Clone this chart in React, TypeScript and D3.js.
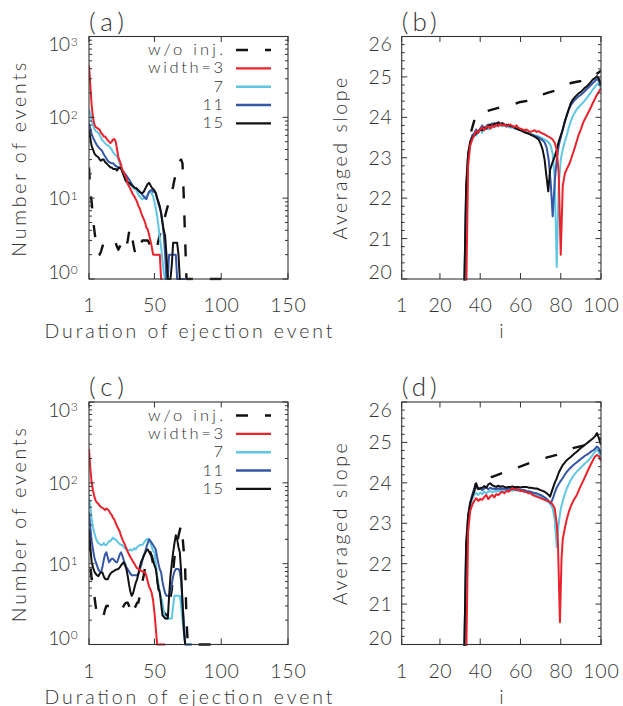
import React from 'react';
import * as d3 from 'd3';

type Pt = [number, number];

// ---------- tick values / labels ----------
const durTicks = [1, 50, 100, 150];
const logTicks = [1, 10, 100, 1000];
const logExp = ['0', '1', '2', '3'];
const iTicks = [1, 20, 40, 60, 80, 100];
const slopeTicks = [20, 21, 22, 23, 24, 25, 26];
const legendLabels = ['w/o inj.', 'width=3', '7', '11', '15'];
const seriesColors = ['#111111', '#e8232b', '#5fc6e3', '#3656a6', '#111111'];

// ---------- panel (a): number of events vs duration ----------
const aDash: Pt[] = [[1, 24], [2, 12], [3, 9], [4, 5.5], [5, 4], [6, 3], [7, 2.3], [8, 2.2], [9, 2], [10, 2.2], [11, 2.5], [12, 2.8], [13, 3], [14, 3], [15, 3], [16, 3], [17, 3], [18, 3], [19, 3], [20, 3], [21, 2.8], [22, 2.5], [23, 2.3], [24, 2.5], [25, 2.8], [26, 3], [27, 2.8], [28, 2.5], [29, 2.5], [30, 3], [31, 3.8], [32, 4.3], [33, 3.5], [34, 2.8], [35, 2.3], [36, 2], [37, 2], [38, 2.2], [39, 2.5], [40, 2.8], [41, 3], [42, 3], [43, 3], [44, 3], [45, 3], [46, 2.8], [47, 2.5], [48, 2.3], [49, 2.2], [50, 2.2], [51, 2.2], [52, 2.5], [53, 3], [54, 3.5], [55, 4], [56, 4.5], [57, 5], [58, 6], [59, 7], [60, 8], [61, 9], [62, 10], [63, 12], [64, 14], [65, 17], [66, 20], [67, 23], [68, 26], [69, 29], [70, 30], [71, 27], [72, 10], [73, 3], [74, 0], [100, 0]];
const aRed: Pt[] = [[1, 440], [2, 250], [3, 140], [4, 100], [5, 82], [6, 76], [7, 74], [8, 72], [9, 70], [10, 64], [11, 62], [12, 58], [13, 58], [14, 55], [15, 52], [16, 50], [17, 48], [18, 50], [19, 53], [20, 54], [21, 50], [22, 40], [23, 32], [24, 29], [25, 26], [26, 22], [27, 21], [28, 19], [29, 18], [30, 15], [31, 14], [32, 13], [33, 12], [34, 11], [35, 10.5], [36, 9.7], [37, 9], [38, 8], [39, 7.5], [40, 6.6], [41, 6], [42, 5.5], [43, 5], [44, 4.3], [45, 4.1], [46, 3.5], [47, 3], [48, 2.5], [49, 2], [50, 2], [51, 2], [52, 2], [53, 2], [54, 2], [55, 0], [56, 0]];
const aLblue: Pt[] = [[1, 126], [2, 110], [3, 90], [4, 80], [5, 72], [6, 68], [7, 66], [8, 64], [9, 60], [10, 56], [11, 52], [12, 50], [13, 48], [14, 46], [15, 45], [16, 44], [17, 42], [18, 40], [19, 37], [20, 35], [21, 34], [22, 33], [23, 30], [24, 27], [25, 24], [26, 22], [27, 20], [28, 19], [29, 18], [30, 16], [31, 15], [32, 14.5], [33, 14], [34, 13.5], [35, 13], [36, 13], [37, 12], [38, 11], [39, 10.5], [40, 10], [41, 9.7], [42, 10], [43, 10.5], [44, 10], [45, 11], [46, 12], [47, 12], [48, 11.5], [49, 10.5], [50, 9], [51, 7.5], [52, 6], [53, 4.5], [54, 3.2], [55, 2.5], [56, 1.7], [57, 1.2], [58, 0], [59, 0]];
const aBlue: Pt[] = [[1, 85], [2, 72], [3, 62], [4, 56], [5, 52], [6, 48], [7, 45], [8, 43], [9, 41], [10, 40], [11, 38], [12, 35], [13, 33], [14, 31], [15, 29], [16, 28], [17, 27.5], [18, 27], [19, 27], [20, 26], [21, 25], [22, 24.5], [23, 24], [24, 23.5], [25, 23], [26, 22], [27, 21], [28, 20], [29, 19], [30, 18], [31, 17], [32, 16], [33, 15], [34, 14], [35, 13.5], [36, 13.4], [37, 13], [38, 12.5], [39, 12], [40, 11.6], [41, 11], [42, 10.5], [43, 10], [44, 9.7], [45, 11], [46, 12], [47, 12.5], [48, 12.5], [49, 12], [50, 12], [51, 11.6], [52, 10], [53, 8.5], [54, 7.5], [55, 6.6], [56, 5], [57, 3.5], [58, 2], [59, 1], [60, 0], [61, 2], [62, 2], [63, 2], [64, 2], [65, 2], [66, 2], [67, 0], [73, 0]];
const aBlack: Pt[] = [[1, 71], [2, 55], [3, 44], [4, 40], [5, 36], [6, 34], [7, 33], [8, 32], [9, 30], [10, 29], [11, 30], [12, 30], [13, 28], [14, 27], [15, 26], [16, 25], [17, 24], [18, 24], [19, 23], [20, 23], [21, 23], [22, 22], [23, 23.5], [24, 24], [25, 23.5], [26, 21], [27, 19], [28, 17], [29, 16], [30, 15.5], [31, 15.5], [32, 15], [33, 14.5], [34, 14], [35, 13.5], [36, 13.4], [37, 13], [38, 12.5], [39, 12], [40, 11.6], [41, 11.6], [42, 12], [43, 13], [44, 14], [45, 15], [46, 15.5], [47, 14.5], [48, 13.5], [49, 13], [50, 12.5], [51, 11.5], [52, 10], [53, 9], [54, 8], [55, 6.5], [56, 5], [57, 4], [58, 3.4], [59, 2], [60, 0], [62, 0], [63, 1.5], [64, 2.8], [65, 2.8], [66, 2.8], [67, 2.8], [68, 2], [69, 0], [70, 0]];

// ---------- panel (c): number of events vs duration ----------
const cDash: Pt[] = [[1, 20], [2, 9.5], [3, 6.5], [4, 5], [5, 4], [6, 3], [7, 2.3], [8, 2.2], [9, 2.1], [10, 2.1], [11, 2.1], [12, 2.3], [13, 2.7], [14, 3], [15, 3], [16, 3], [17, 3], [18, 3], [19, 3], [20, 3], [21, 2.8], [22, 2.7], [23, 2.7], [24, 2.7], [25, 2.7], [26, 2.8], [27, 3], [28, 3.2], [29, 3.3], [30, 3.3], [31, 3], [32, 2.6], [33, 2.3], [34, 2.5], [35, 2.8], [36, 3], [37, 3.3], [38, 3.3], [39, 4], [40, 5], [41, 6], [42, 7.2], [43, 9], [44, 11], [45, 12.5], [46, 13.5], [47, 13.8], [48, 12], [49, 10], [50, 9], [51, 8.6], [52, 6.5], [53, 5], [54, 4], [55, 3.2], [56, 2.7], [57, 2.5], [58, 2.4], [59, 2.3], [60, 2.3], [61, 3], [62, 3.8], [63, 4.8], [64, 8], [65, 12], [66, 16], [67, 18], [68, 22], [69, 26], [70, 30], [71, 22], [72, 14], [73, 8.6], [74, 2], [75, 0], [100, 0]];
const cRed: Pt[] = [[1, 263], [2, 150], [3, 101], [4, 80], [5, 68], [6, 60], [7, 57], [8, 55], [9, 52], [10, 50], [11, 49], [12, 48], [13, 46], [14, 48], [15, 47], [16, 45], [17, 42], [18, 40], [19, 37], [20, 35], [21, 32], [22, 29], [23, 27], [24, 25], [25, 22], [26, 20], [27, 18.5], [28, 17], [29, 15.5], [30, 14], [31, 13], [32, 12], [33, 11.4], [34, 10.5], [35, 10], [36, 9.3], [37, 8.8], [38, 8.6], [39, 8.4], [40, 8.2], [41, 8], [42, 7.9], [43, 7.8], [44, 7], [45, 6], [46, 5.2], [47, 4.8], [48, 4.3], [49, 3.5], [50, 2.5], [51, 1.6], [52, 1], [53, 0], [58, 0]];
const cLblue: Pt[] = [[1, 66], [2, 50], [3, 36], [4, 28], [5, 24], [6, 21], [7, 19], [8, 18], [9, 17.5], [10, 17], [11, 17], [12, 18], [13, 17], [14, 17], [15, 18], [16, 19], [17, 19], [18, 20], [19, 21], [20, 20], [21, 20], [22, 19], [23, 18], [24, 17.5], [25, 17], [26, 17], [27, 16], [28, 15.5], [29, 15], [30, 14.6], [31, 14.6], [32, 15], [33, 14.5], [34, 15], [35, 15.5], [36, 15], [37, 16], [38, 16.5], [39, 17], [40, 17], [41, 17], [42, 18], [43, 19], [44, 20], [45, 20], [46, 20], [47, 18], [48, 16], [49, 14.5], [50, 13.8], [51, 10], [52, 7.2], [53, 5.5], [54, 4.5], [55, 3.8], [56, 3.3], [57, 2.5], [58, 2.1], [63, 2.1], [64, 3], [65, 4], [69, 4], [70, 3], [71, 2], [72, 1.5], [73, 1], [74, 0], [78, 0]];
const cBlue: Pt[] = [[1, 43], [2, 28], [3, 19], [4, 15], [5, 12], [6, 10.5], [7, 9.5], [8, 8.5], [9, 8], [10, 7.8], [11, 9], [12, 11], [13, 13], [14, 13.8], [15, 12], [16, 10.4], [17, 11], [18, 11.5], [19, 11.5], [20, 11], [21, 10.5], [22, 10.4], [23, 11.5], [24, 13], [25, 13.8], [26, 12.5], [27, 11], [28, 10], [29, 9], [30, 8.5], [31, 8], [32, 7.5], [33, 7.2], [37, 7.2], [38, 7.5], [39, 8.5], [40, 9.5], [41, 11], [42, 12.7], [43, 14], [44, 16], [45, 18], [46, 20], [47, 19], [48, 18], [49, 17], [50, 16], [51, 15], [52, 12], [53, 10], [54, 8.5], [55, 7.8], [56, 6], [57, 5], [58, 4.3], [59, 4], [61, 4], [62, 4.5], [63, 5.5], [64, 7], [65, 8], [66, 8.6], [68, 8.6], [69, 8], [70, 6], [71, 3.3], [72, 2], [73, 1], [74, 0], [78, 0]];
const cBlack: Pt[] = [[1, 27], [2, 16], [3, 10.4], [4, 9], [5, 8], [6, 7.5], [7, 7.2], [8, 7], [9, 7.5], [10, 7.8], [11, 7.8], [12, 7], [13, 6.5], [14, 6.4], [15, 6.4], [16, 7], [17, 7.5], [18, 7.8], [19, 8], [20, 8.2], [21, 8.4], [22, 8.5], [23, 8.6], [24, 9], [25, 9.5], [26, 10], [27, 10.4], [28, 9.5], [29, 8.6], [30, 7], [31, 5.5], [32, 4.5], [33, 4], [34, 4.3], [35, 5], [36, 5.8], [37, 6.4], [38, 7.5], [39, 9], [40, 10.5], [41, 11.4], [42, 12.5], [43, 13.5], [44, 14.5], [45, 15], [46, 14], [47, 13], [48, 12.7], [49, 11], [50, 9.5], [51, 8.6], [52, 6.5], [53, 5], [54, 4.4], [55, 3.2], [56, 2.3], [57, 2.2], [58, 2.1], [60, 2.1], [61, 4], [62, 7], [63, 10], [64, 13.8], [65, 18], [66, 22.4], [67, 20], [68, 16], [69, 13.8], [70, 8], [71, 3.3], [72, 1.5], [73, 0]];

// ---------- panel (b): averaged slope vs i ----------
const bDash: Pt[] = [[35.5, 23.65], [37.5, 24.0], [40, 24.1], [45, 24.18], [50, 24.25], [55, 24.3], [60, 24.38], [65, 24.42], [70, 24.55], [75, 24.63], [80, 24.7], [85, 24.85], [90, 24.9], [95, 24.98], [100, 25.15]];
const bRed: Pt[] = [[33, 19.5], [34, 22.8], [35, 23.3], [36, 23.45], [37, 23.55], [38, 23.66], [39, 23.62], [40, 23.7], [41, 23.75], [42, 23.68], [43, 23.76], [44, 23.78], [45, 23.72], [46, 23.8], [47, 23.76], [48, 23.82], [49, 23.78], [50, 23.84], [51, 23.8], [52, 23.83], [53, 23.78], [54, 23.8], [55, 23.82], [56, 23.78], [57, 23.76], [58, 23.8], [59, 23.74], [60, 23.72], [61, 23.7], [62, 23.68], [63, 23.7], [64, 23.66], [65, 23.64], [66, 23.66], [67, 23.68], [68, 23.64], [69, 23.66], [70, 23.62], [71, 23.6], [72, 23.58], [73, 23.55], [74, 23.52], [75, 23.49], [76, 23.45], [77, 23.37], [78, 23.2], [79, 22.6], [80, 20.6], [81, 22.3], [82, 22.6], [83, 22.72], [84, 22.82], [85, 22.95], [86, 23.1], [87, 23.25], [88, 23.42], [89, 23.58], [90, 23.7], [91, 23.85], [92, 23.96], [93, 24.05], [94, 24.15], [95, 24.25], [96, 24.36], [97, 24.46], [98, 24.56], [99, 24.64], [100, 24.72]];
const bLblue: Pt[] = [[32, 19.5], [33, 22.0], [34, 23.0], [35, 23.3], [36, 23.5], [37, 23.6], [38, 23.55], [39, 23.65], [40, 23.7], [41, 23.62], [42, 23.72], [43, 23.75], [44, 23.7], [45, 23.78], [46, 23.74], [47, 23.8], [48, 23.78], [49, 23.82], [50, 23.8], [51, 23.78], [52, 23.8], [53, 23.76], [54, 23.78], [55, 23.74], [56, 23.76], [57, 23.72], [58, 23.72], [59, 23.7], [60, 23.68], [61, 23.66], [62, 23.64], [63, 23.62], [64, 23.6], [65, 23.6], [66, 23.58], [67, 23.56], [68, 23.55], [69, 23.53], [70, 23.5], [71, 23.48], [72, 23.45], [73, 23.42], [74, 23.38], [75, 23.3], [76, 23.1], [77, 22.5], [78, 20.3], [79, 22.3], [80, 22.95], [81, 23.2], [82, 23.4], [83, 23.55], [84, 23.75], [85, 23.9], [86, 24.03], [87, 24.12], [88, 24.2], [89, 24.26], [90, 24.31], [91, 24.36], [92, 24.42], [93, 24.48], [94, 24.55], [95, 24.62], [96, 24.69], [97, 24.75], [98, 24.82], [99, 24.85], [100, 24.7]];
const bBlue: Pt[] = [[32, 19.5], [33, 22.2], [34, 23.1], [35, 23.35], [36, 23.55], [37, 23.6], [38, 23.7], [39, 23.62], [40, 23.72], [41, 23.8], [42, 23.7], [43, 23.78], [44, 23.82], [45, 23.8], [46, 23.85], [47, 23.82], [48, 23.86], [49, 23.82], [50, 23.83], [51, 23.86], [52, 23.8], [53, 23.82], [54, 23.78], [55, 23.8], [56, 23.76], [57, 23.74], [58, 23.72], [59, 23.7], [60, 23.69], [61, 23.66], [62, 23.65], [63, 23.62], [64, 23.6], [65, 23.58], [66, 23.56], [67, 23.54], [68, 23.52], [69, 23.5], [70, 23.47], [71, 23.43], [72, 23.38], [73, 23.25], [74, 22.95], [75, 22.4], [76, 21.55], [77, 22.4], [78, 22.95], [79, 23.3], [80, 23.5], [81, 23.7], [82, 23.88], [83, 24.05], [84, 24.2], [85, 24.3], [86, 24.37], [87, 24.43], [88, 24.48], [89, 24.52], [90, 24.56], [91, 24.6], [92, 24.65], [93, 24.7], [94, 24.75], [95, 24.8], [96, 24.85], [97, 24.9], [98, 24.95], [99, 24.9], [100, 24.78]];
const bBlack: Pt[] = [[32, 19.5], [33, 22.3], [34, 23.1], [35, 23.4], [36, 23.5], [37, 23.55], [38, 23.6], [39, 23.65], [40, 23.7], [41, 23.68], [42, 23.75], [43, 23.72], [44, 23.8], [45, 23.82], [46, 23.78], [47, 23.85], [48, 23.82], [49, 23.88], [50, 23.84], [51, 23.85], [52, 23.82], [53, 23.8], [54, 23.82], [55, 23.78], [56, 23.78], [57, 23.75], [58, 23.72], [59, 23.7], [60, 23.68], [61, 23.66], [62, 23.63], [63, 23.61], [64, 23.6], [65, 23.57], [66, 23.55], [67, 23.52], [68, 23.49], [69, 23.45], [70, 23.35], [71, 23.2], [72, 22.95], [73, 22.5], [73.8, 22.17], [74.7, 22.7], [76, 22.9], [77, 23.03], [78, 23.2], [79, 23.4], [80, 23.55], [81, 23.7], [82, 23.9], [83, 24.05], [84, 24.2], [85, 24.35], [86, 24.44], [87, 24.5], [88, 24.55], [89, 24.6], [90, 24.63], [91, 24.68], [92, 24.73], [93, 24.77], [94, 24.82], [95, 24.88], [96, 24.94], [97, 24.97], [98, 25.02], [99, 24.95], [100, 24.8]];

// ---------- panel (d): averaged slope vs i ----------
const dDash: Pt[] = [[36.5, 23.7], [38, 24.03], [40, 24.08], [46, 24.15], [51, 24.24], [58, 24.37], [65, 24.5], [71, 24.6], [78, 24.69], [86, 24.86], [93, 24.94], [98, 25.06], [100, 25.1]];
const dRed: Pt[] = [[33, 19.5], [34, 22.79], [35, 23.3], [36, 23.45], [37, 23.55], [38, 23.62], [39, 23.55], [40, 23.6], [41, 23.58], [42, 23.65], [43, 23.7], [44, 23.6], [45, 23.66], [46, 23.7], [47, 23.64], [48, 23.72], [49, 23.7], [50, 23.75], [51, 23.78], [52, 23.74], [53, 23.8], [54, 23.78], [55, 23.82], [56, 23.86], [57, 23.84], [58, 23.82], [59, 23.84], [60, 23.8], [61, 23.8], [62, 23.78], [63, 23.77], [64, 23.74], [65, 23.74], [66, 23.7], [67, 23.68], [68, 23.66], [69, 23.64], [70, 23.62], [71, 23.6], [72, 23.58], [73, 23.56], [74, 23.54], [75, 23.52], [76, 23.46], [77, 23.37], [78, 23.0], [78.6, 22.54], [79.6, 20.55], [80.4, 22.13], [81, 22.6], [82, 22.87], [83, 23.1], [84, 23.28], [85, 23.42], [86, 23.53], [87, 23.62], [88, 23.7], [89, 23.82], [90, 23.93], [91, 24.03], [92, 24.14], [93, 24.25], [94, 24.36], [95, 24.46], [96, 24.56], [97, 24.65], [98, 24.69], [99, 24.65], [100, 24.55]];
const dLblue: Pt[] = [[32, 19.5], [33, 22.2], [34, 23.0], [35, 23.4], [36, 23.6], [37, 23.7], [38, 23.75], [39, 23.7], [40, 23.76], [41, 23.72], [42, 23.78], [43, 23.74], [44, 23.78], [45, 23.8], [46, 23.76], [47, 23.8], [48, 23.78], [49, 23.8], [50, 23.8], [51, 23.82], [52, 23.8], [53, 23.82], [54, 23.81], [55, 23.82], [56, 23.8], [57, 23.82], [58, 23.81], [59, 23.8], [60, 23.8], [61, 23.79], [62, 23.78], [63, 23.77], [64, 23.76], [65, 23.75], [66, 23.73], [67, 23.71], [68, 23.7], [69, 23.68], [70, 23.65], [71, 23.62], [72, 23.6], [73, 23.56], [74, 23.52], [75, 23.46], [76, 23.37], [77, 23.1], [78, 22.41], [79, 23.0], [80, 23.35], [81, 23.55], [82, 23.72], [83, 23.86], [84, 23.97], [85, 24.07], [86, 24.15], [87, 24.22], [88, 24.28], [89, 24.33], [90, 24.38], [91, 24.43], [92, 24.48], [93, 24.52], [94, 24.57], [95, 24.63], [96, 24.7], [97, 24.77], [98, 24.83], [99, 24.75], [100, 24.52]];
const dBlue: Pt[] = [[32, 19.5], [33, 22.4], [34, 23.15], [35, 23.5], [36, 23.7], [37, 23.85], [38, 23.9], [39, 23.84], [40, 23.88], [41, 23.82], [42, 23.86], [43, 23.9], [44, 23.84], [45, 23.88], [46, 23.85], [47, 23.86], [48, 23.84], [49, 23.86], [50, 23.85], [51, 23.86], [52, 23.85], [53, 23.86], [54, 23.84], [55, 23.86], [56, 23.85], [57, 23.84], [58, 23.85], [59, 23.84], [60, 23.82], [61, 23.83], [62, 23.82], [63, 23.8], [64, 23.79], [65, 23.78], [66, 23.76], [67, 23.75], [68, 23.74], [69, 23.72], [70, 23.7], [71, 23.67], [72, 23.64], [73, 23.6], [74, 23.55], [75, 23.49], [76, 23.6], [77, 23.75], [78, 23.88], [79, 23.97], [80, 24.05], [81, 24.12], [82, 24.2], [83, 24.27], [84, 24.33], [85, 24.38], [86, 24.43], [87, 24.47], [88, 24.51], [89, 24.55], [90, 24.59], [91, 24.63], [92, 24.67], [93, 24.7], [94, 24.73], [95, 24.77], [96, 24.8], [97, 24.84], [98, 24.9], [99, 24.85], [100, 24.7]];
const dBlack: Pt[] = [[32, 19.5], [33, 22.5], [34, 23.2], [35, 23.5], [36, 23.65], [37, 23.8], [38, 23.99], [39, 23.85], [40, 23.86], [41, 23.88], [42, 23.92], [43, 23.88], [44, 23.96], [45, 23.99], [46, 23.94], [47, 23.92], [48, 23.9], [49, 23.93], [50, 23.9], [51, 23.92], [52, 23.9], [53, 23.88], [54, 23.9], [55, 23.9], [56, 23.91], [57, 23.89], [58, 23.9], [59, 23.9], [60, 23.88], [61, 23.9], [62, 23.9], [63, 23.9], [64, 23.88], [65, 23.88], [66, 23.87], [67, 23.86], [68, 23.86], [69, 23.84], [70, 23.82], [71, 23.8], [72, 23.78], [73, 23.74], [74, 23.7], [74.7, 23.66], [76, 23.85], [77, 24.0], [78, 24.11], [79, 24.25], [80, 24.35], [81, 24.44], [82, 24.5], [83, 24.56], [84, 24.6], [85, 24.64], [86, 24.69], [87, 24.73], [88, 24.77], [89, 24.82], [90, 24.86], [91, 24.9], [92, 24.94], [93, 24.98], [94, 25.02], [95, 25.06], [96, 25.1], [97, 25.15], [98, 25.23], [99, 25.1], [100, 24.94]];

const FONT = "Lato, 'Liberation Sans', Arial, sans-serif";
const FW = 300;
const TXT = '#333333';
const AX = '#333333';

function numLen(s: string) {
  return s.length <= 1 ? undefined : 12.3 * s.length - 1.5;
}

type PanelProps = {
  id: string;
  kind: 'hist' | 'slope';
  left: number;
  top: number;
  right: number;
  bottom: number;
  letter: string;
  series: Pt[][]; // order: dash, red(3), lblue(7), blue(11), black(15)
};

function Panel({ id, kind, left, top, right, bottom, letter, series }: PanelProps) {
  const isHist = kind === 'hist';
  const x = d3.scaleLinear().domain(isHist ? [1, 150] : [1, 100]).range([left, right]);
  const y: any = isHist
    ? d3.scaleLog().domain([1, 1000]).range([bottom, top])
    : d3.scaleLinear().domain([20, 26]).range([bottom, top]);
  const yVal = (v: number) => (isHist ? y(Math.max(v, 1)) : y(v));
  const line = d3.line<Pt>().x((d) => x(d[0])).y((d) => yVal(d[1]));

  const xTicks = isHist ? durTicks : iTicks;
  const yTicks = isHist ? logTicks : slopeTicks;
  const minor: number[] = [];
  if (isHist) {
    [1, 10, 100].forEach((dec) => {
      for (let k = 2; k <= 9; k++) minor.push(k * dec);
    });
  } else {
    for (let v = 20.2; v < 26; v += 0.2) {
      if (Math.abs(v - Math.round(v)) > 0.05) minor.push(v);
    }
  }
  const MAJ = 5.5;
  const MIN = 3;
  const clipId = `clip-${id}`;
  const order = [0, 2, 3, 4, 1];
  const cx = (left + right) / 2;
  const cy = (top + bottom) / 2;
  const tp = { fontFamily: FONT, fontWeight: FW, fill: TXT } as any;

  return (
    <g>
      <defs>
        <clipPath id={clipId}>
          <rect x={left} y={top - 1} width={right - left} height={bottom - top + 2.5} />
        </clipPath>
      </defs>
      <g clipPath={`url(#${clipId})`}>
        {order.map((si) => (
          <path
            key={si}
            d={line(series[si]) || ''}
            fill="none"
            stroke={seriesColors[si]}
            strokeWidth={si === 0 ? 2.4 : 2}
            strokeDasharray={si === 0 ? '12 17' : undefined}
            strokeLinejoin="round"
          />
        ))}
      </g>
      <rect x={left} y={top} width={right - left} height={bottom - top} fill="none" stroke={AX} strokeWidth={1.1} />
      {xTicks.map((t) => (
        <g key={`xt${t}`}>
          <line x1={x(t)} x2={x(t)} y1={bottom} y2={bottom - MAJ - 0.5} stroke={AX} strokeWidth={1} />
          <line x1={x(t)} x2={x(t)} y1={top} y2={top + MAJ} stroke={AX} strokeWidth={1} />
          <text x={x(t)} y={bottom + 33} textAnchor="middle" fontSize={19.5} {...tp} textLength={numLen(String(t))} lengthAdjust="spacing">
            {String(t)}
          </text>
        </g>
      ))}
      {yTicks.map((t, k) => {
        const yy = y(t);
        const shift = k === 0 ? -7 : k === yTicks.length - 1 ? 7.5 : 0;
        const base = yy + shift + 7;
        return (
          <g key={`yt${t}`}>
            <line x1={left} x2={left + MAJ} y1={yy} y2={yy} stroke={AX} strokeWidth={1} />
            <line x1={right} x2={right - MAJ} y1={yy} y2={yy} stroke={AX} strokeWidth={1} />
            {isHist ? (
              <g>
                <text x={left - 19} y={base} textAnchor="end" fontSize={19.5} {...tp} textLength={21.7} lengthAdjust="spacing">
                  10
                </text>
                <text x={left - 18.3} y={base - 5.5} textAnchor="start" fontSize={12} {...tp}>
                  {logExp[k]}
                </text>
              </g>
            ) : (
              <text x={left - 10} y={base} textAnchor="end" fontSize={19.5} {...tp} textLength={numLen(String(t))} lengthAdjust="spacing">
                {String(t)}
              </text>
            )}
          </g>
        );
      })}
      {minor.map((t, k) => (
        <g key={`ym${k}`}>
          <line x1={left} x2={left + MIN} y1={y(t)} y2={y(t)} stroke={AX} strokeWidth={1} />
          <line x1={right} x2={right - MIN} y1={y(t)} y2={y(t)} stroke={AX} strokeWidth={1} />
        </g>
      ))}
      {isHist ? (
        <text x={cx} y={bottom + 59} textAnchor="middle" fontSize={19.5} {...tp} textLength={288} lengthAdjust="spacing">
          Duration of ejection event
        </text>
      ) : (
        <text x={cx} y={bottom + 59} textAnchor="middle" fontSize={19.5} {...tp}>
          i
        </text>
      )}
      {isHist ? (
        <text transform={`translate(26,${cy + 2})rotate(-90)`} textAnchor="middle" fontSize={19.5} {...tp} textLength={194} lengthAdjust="spacing">
          Number of events
        </text>
      ) : (
        <text transform={`translate(${left - 54.5},${cy + 1})rotate(-90)`} textAnchor="middle" fontSize={19.5} {...tp} textLength={162} lengthAdjust="spacing">
          Averaged slope
        </text>
      )}
      <text x={left} y={top - 6} fontSize={26} {...tp} textLength={35} lengthAdjust="spacing">
        {letter}
      </text>
      {isHist &&
        legendLabels.map((lab, k) => {
          const base = top + 18.5 + k * 18.35;
          const len = lab.length >= 7 ? 75 : lab.length === 2 ? 20.5 : undefined;
          return (
            <g key={`lg${k}`}>
              <text x={left + 134} y={base} textAnchor="end" fontSize={16.5} {...tp} textLength={len} lengthAdjust="spacing">
                {lab}
              </text>
              <line
                x1={left + 147}
                x2={left + 182}
                y1={base - 5}
                y2={base - 5}
                stroke={seriesColors[k]}
                strokeWidth={2.4}
                strokeDasharray={k === 0 ? '12 17' : undefined}
              />
            </g>
          );
        })}
    </g>
  );
}

export default function App() {
  const L1 = 89, R1 = 288, L2 = 401.7, R2 = 601;
  const T1 = 36.5, B1 = 279, T2 = 402, B2 = 644.5;
  return (
    <svg
      width={623}
      height={706}
      viewBox="0 0 623 706"
      style={{ position: 'absolute', left: 0, top: 0, display: 'block', background: '#ffffff' }}
    >
      <rect x={0} y={0} width={623} height={706} fill="#ffffff" />
      <Panel id="a" kind="hist" left={L1} right={R1} top={T1} bottom={B1} letter="(a)" series={[aDash, aRed, aLblue, aBlue, aBlack]} />
      <Panel id="b" kind="slope" left={L2} right={R2} top={T1} bottom={B1} letter="(b)" series={[bDash, bRed, bLblue, bBlue, bBlack]} />
      <Panel id="c" kind="hist" left={L1} right={R1} top={T2} bottom={B2} letter="(c)" series={[cDash, cRed, cLblue, cBlue, cBlack]} />
      <Panel id="d" kind="slope" left={L2} right={R2} top={T2} bottom={B2} letter="(d)" series={[dDash, dRed, dLblue, dBlue, dBlack]} />
    </svg>
  );
}
